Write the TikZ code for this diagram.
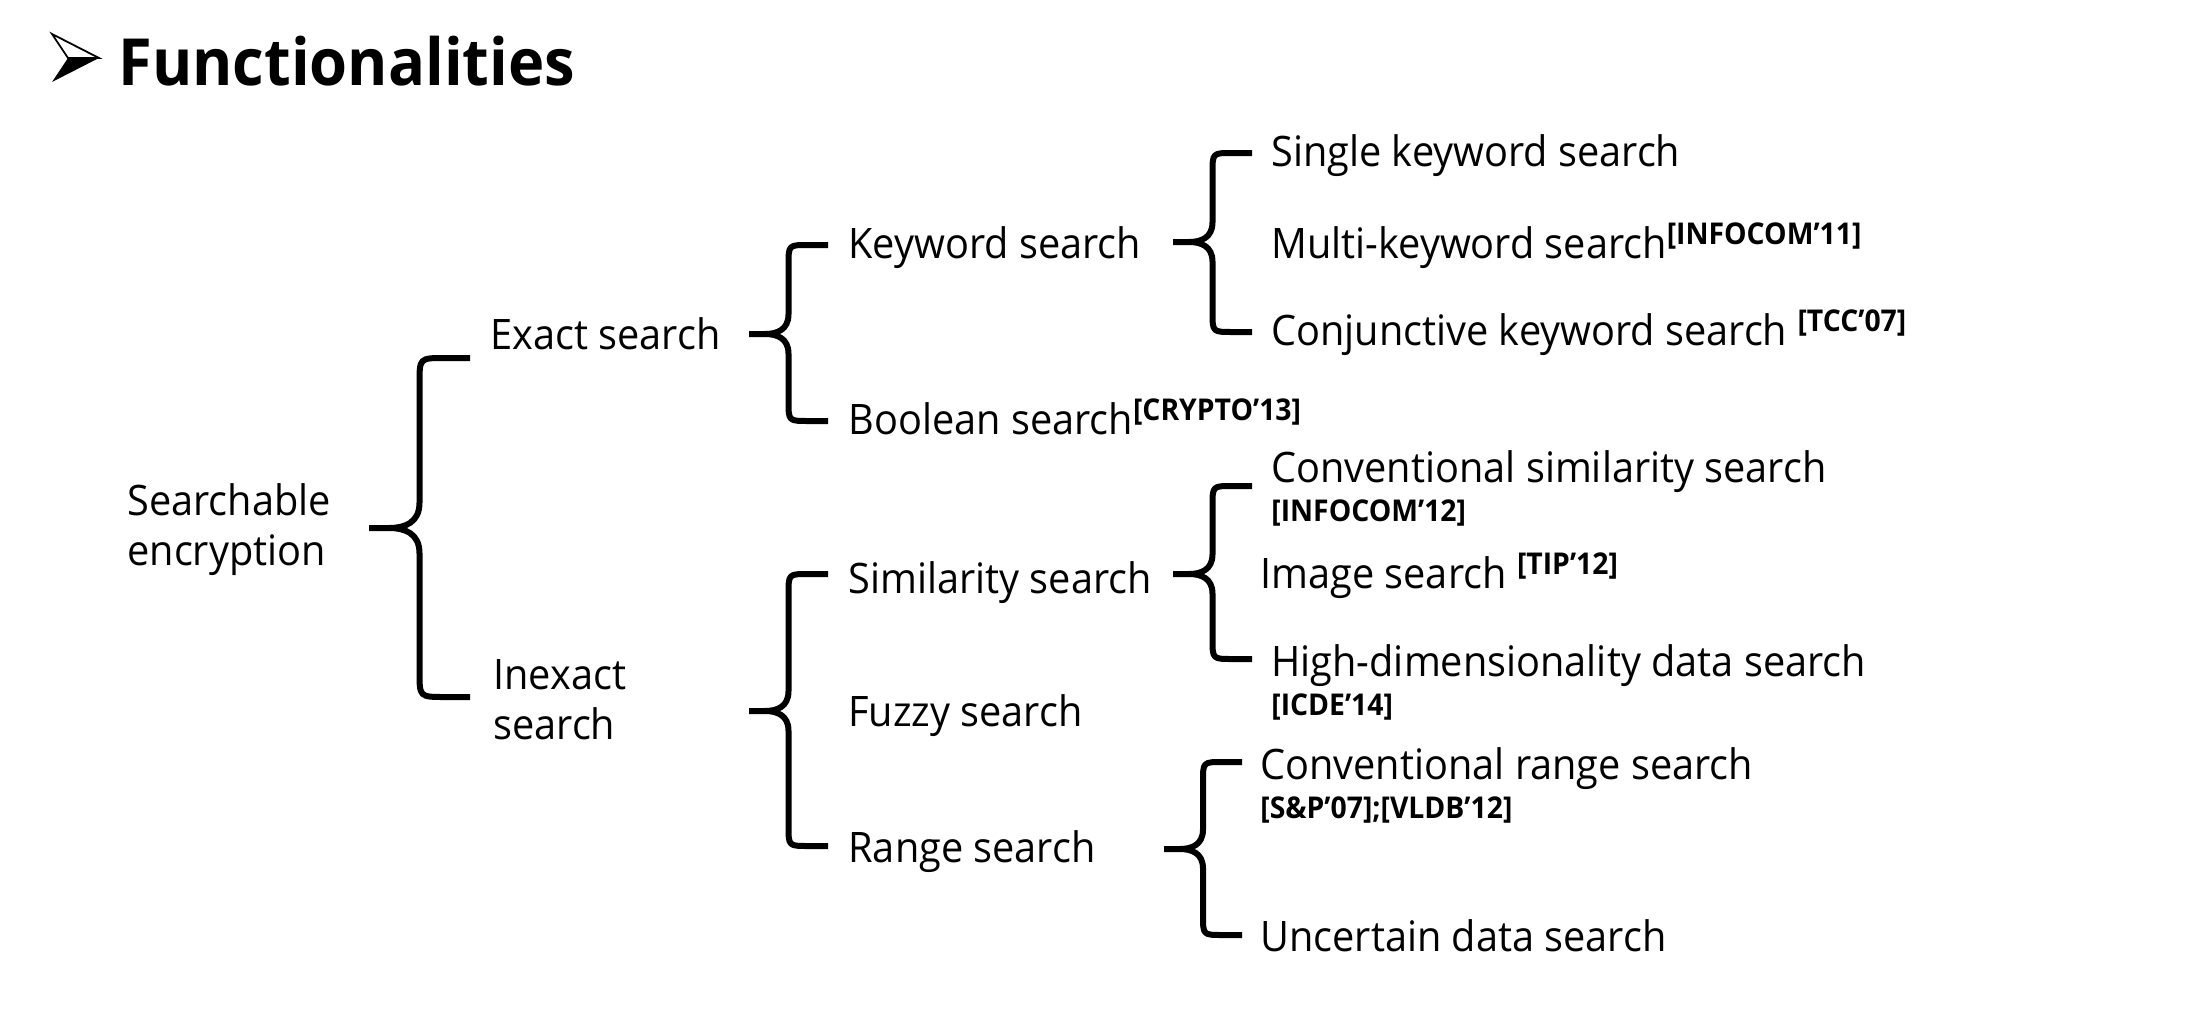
\documentclass[tikz,border=0pt]{standalone}
\usepackage{fontspec}
\setmainfont{Open Sans}[FakeStretch=0.945]
\usetikzlibrary{calc}
\newcommand{\refmark}[1]{\raisebox{7pt}{\bfseries\fontsize{15}{17}\selectfont #1}}
\newcommand{\curly}[3]{%
  \draw[bracestyle] let \p1=(#1),\p2=(#2),\p3=(#3),\n1={(\x2-\x1)/2},\n2={(\x2-\x1)/4} in
    (\x2,\y2) -- ({\x1+\n1+\n2},\y2) .. controls ({\x1+\n1},\y2) .. ({\x1+\n1},{\y2-\n2})
    -- ({\x1+\n1},{\y1+\n2}) .. controls ({\x1+\n1},{\y1+0.2*\n2}) and ({\x1+0.7*\n1},\y1) .. ({\x1+0.4*\n1},\y1) -- (\x1,\y1)
    ({\x1+0.4*\n1},\y1) .. controls ({\x1+0.7*\n1},\y1) and ({\x1+\n1},{\y1-0.2*\n2}) .. ({\x1+\n1},{\y1-\n2})
    -- ({\x1+\n1},{\y3+\n2}) .. controls ({\x1+\n1},\y3) .. ({\x1+\n1+\n2},\y3) -- (\x3,\y3);}
\begin{document}
\begin{tikzpicture}[x=0.5pt,y=-0.5pt,
  lbl/.style={anchor=base west, inner sep=0pt, font=\fontsize{21}{25}\selectfont},
  twoline/.style={anchor=west, inner sep=0pt, align=left, font=\fontsize{21}{25}\selectfont},
  reflbl/.style={anchor=base west, inner sep=0pt, font=\bfseries\fontsize{15}{17}\selectfont},
  bracestyle/.style={line width=3pt, line join=round, line cap=butt}]
\useasboundingbox (0,0) rectangle (2208,1028);

% title
\fill[white] (0,0) rectangle (2208,1028);
\draw[line width=0.9pt, line join=miter] (52,34) -- (99,58) -- (68,58) -- cycle;
\fill (68,58) -- (99,58) -- (52,82) -- cycle;
\node[anchor=base west, inner sep=0pt, font=\bfseries\fontsize{32.5}{38}\selectfont] (title) at (118,85) {Functionalities};

% level 0/1
\node[twoline] (root) at (127,530) {Searchable\\encryption};
\node[lbl] (exact) at (490,349) {Exact search};
\node[twoline] (inexact) at (493,700) {Inexact\\search};

% level 2
\node[lbl] (kw) at (848,258) {Keyword search};
\node[lbl] (bool) at (848,434) {Boolean search\refmark{[CRYPTO’13]}};
\node[lbl] (sim) at (848,593) {Similarity search};
\node[lbl] (fuzzy) at (848,726) {Fuzzy search};
\node[lbl] (range) at (848,862) {Range search};

% level 3
\node[lbl] (single) at (1271,166) {Single keyword search};
\node[lbl] (multi) at (1271,258) {Multi-keyword search\refmark{[INFOCOM’11]}};
\node[lbl] (conj) at (1271,345) {Conjunctive keyword search \refmark{[TCC’07]}};
\node[lbl] (convsim) at (1271,482) {Conventional similarity search};
\node[reflbl] (convsimref) at (1271,521) {[INFOCOM’12]};
\node[lbl] (image) at (1260,588) {Image search \refmark{[TIP’12]}};
\node[lbl] (highdim) at (1271,676) {High-dimensionality data search};
\node[reflbl] (highdimref) at (1271,715) {[ICDE’14]};
\node[lbl] (convrange) at (1260,779) {Conventional range search};
\node[reflbl] (convrangeref) at (1260,818) {[S\&P’07];[VLDB’12]};
\node[lbl] (uncertain) at (1260,951) {Uncertain data search};

% brace end points
\coordinate (b0t) at (369,528); \coordinate (b0a) at (470,358); \coordinate (b0b) at (470,697);
\coordinate (b1t) at (749,334); \coordinate (b1a) at (828,245); \coordinate (b1b) at (828,421);
\coordinate (b2t) at (1173,242); \coordinate (b2a) at (1252,153); \coordinate (b2b) at (1252,332);
\coordinate (b3t) at (749,711); \coordinate (b3a) at (828,574); \coordinate (b3b) at (828,846);
\coordinate (b4t) at (1173,574); \coordinate (b4a) at (1252,486); \coordinate (b4b) at (1252,659);
\coordinate (b5t) at (1164,849); \coordinate (b5a) at (1242,762); \coordinate (b5b) at (1242,935);

\curly{b0t}{b0a}{b0b}
\curly{b1t}{b1a}{b1b}
\curly{b2t}{b2a}{b2b}
\curly{b3t}{b3a}{b3b}
\curly{b4t}{b4a}{b4b}
\curly{b5t}{b5a}{b5b}
\end{tikzpicture}
\end{document}
